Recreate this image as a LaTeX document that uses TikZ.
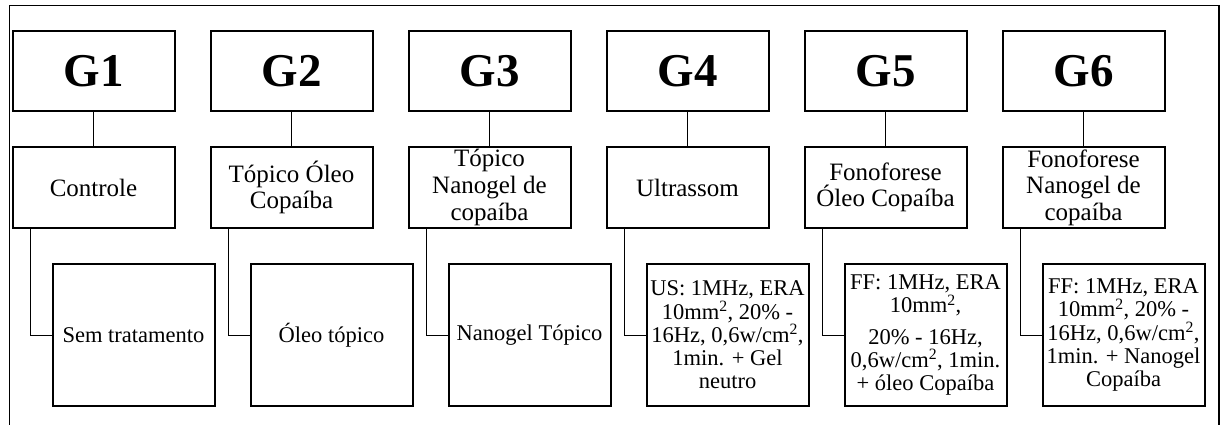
\documentclass[tikz,border=0pt]{standalone}
\usepackage{fontspec}
\setmainfont{Liberation Serif}
\begin{document}
\begin{tikzpicture}[x=1pt,y=-1pt,
  gbox/.style={draw, line width=2pt, minimum width=162pt, minimum height=80pt, inner sep=0pt, outer sep=0pt, font=\fontsize{47}{50}\selectfont\bfseries},
  mbox/.style={draw, line width=2pt, minimum width=162pt, minimum height=81pt, inner sep=0pt, outer sep=0pt, align=center, font=\fontsize{25}{26.6}\selectfont},
  bbox/.style={draw, line width=2pt, minimum width=162pt, minimum height=142pt, inner sep=0pt, outer sep=0pt, align=center, font=\fontsize{22.5}{23.3}\selectfont},
  conn/.style={line width=1pt},
  frame/.style={line width=1.6pt}]
\useasboundingbox (0,0) rectangle (1221,425);
\draw[frame] (9.5,425) -- (9.5,5.5) -- (1219,5.5) -- (1219,425);

\newcommand{\sqm}{\textsuperscript{2}}
\foreach \i/\g in {0/G1,1/G2,2/G3,3/G4,4/G5,5/G6}{
  \node[gbox] (g\i) at (93.5+198*\i,71) {\g};
}
\node[mbox] (m0) at (93.5,187.5) {Controle};
\node[mbox] (m1) at (291.5,187.5) {Tópico Óleo\\Copaíba};
\node[mbox] (m2) at (489.5,187.5) {Tópico\\Nanogel de\\copaíba};
\node[mbox] (m3) at (687.5,187.5) {Ultrassom};
\node[mbox] (m4) at (885.5,187.5) {Fonoforese\\Óleo Copaíba};
\node[mbox] (m5) at (1083.5,187.5) {Fonoforese\\Nanogel de\\copaíba};

\node[bbox] (b0) at (133.5,335) {Sem tratamento};
\node[bbox] (b1) at (331.5,335) {Óleo tópico};
\node[bbox] (b2) at (529.5,335) {Nanogel Tópico};
\node[bbox] (b3) at (727.5,335) {US: 1MHz, ERA\\10mm\sqm, 20\% -\\16Hz, 0,6w/cm\sqm,\\1min. + Gel\\neutro};
\node[bbox] (b4) at (925.5,335) {FF: 1MHz, ERA\\10mm\sqm,\\[8pt]20\% - 16Hz,\\0,6w/cm\sqm, 1min.\\+ óleo Copaíba};
\node[bbox] (b5) at (1123.5,335) {FF: 1MHz, ERA\\10mm\sqm, 20\% -\\16Hz, 0,6w/cm\sqm,\\1min. + Nanogel\\Copaíba};

\foreach \i in {0,...,5}{
  \draw[conn] (g\i.south) -- (m\i.north);
  \draw[conn] ([xshift=17.5pt]m\i.south west) |- (b\i.west);
}
\end{tikzpicture}
\end{document}
